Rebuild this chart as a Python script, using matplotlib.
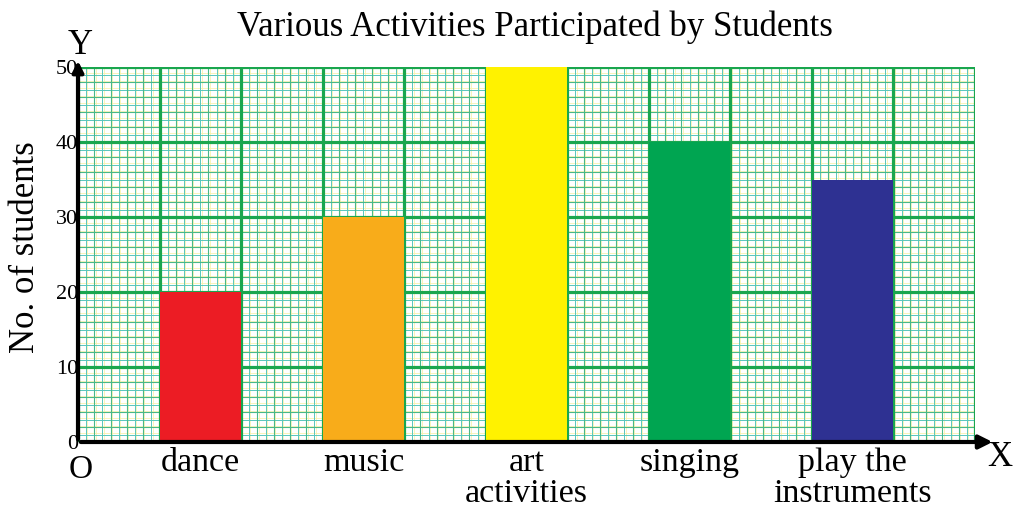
import matplotlib
matplotlib.use("Agg")
import matplotlib.pyplot as plt
import numpy as np

# Data
activities = ["dance", "music", "art\nactivities", "singing", "play the\ninstruments"]
students = [20, 30, 50, 40, 35]
bar_colors = ["#ec1c24", "#f8ac1a", "#fff200", "#00a551", "#2e3192"]
y_ticks = [0, 10, 20, 30, 40, 50]

plt.rcParams["font.family"] = ["Liberation Serif", "DejaVu Serif"]

fig = plt.figure(figsize=(10.23, 5.13), dpi=100)
ax = fig.add_axes([78 / 1023, 1 - 442 / 513, (975 - 78) / 1023, (442 - 67) / 513])

# Graph-paper grid: x runs over 11 major cells, y over 0..50
x_max = 11
y_max = 50
ax.set_xlim(0, x_max)
ax.set_ylim(0, y_max)

minor_x = np.arange(0, x_max + 1e-9, 0.1)
minor_y = np.arange(0, y_max + 1e-9, 1)
for v in minor_x:
    ax.axvline(v + 0.015, color="#f8f2b0", lw=0.6, zorder=0)
    ax.axvline(v, color="#58c6bc", lw=0.7, zorder=0.5)
for v in minor_y:
    ax.axhline(v + 0.15, color="#f8f2b0", lw=0.6, zorder=0)
    ax.axhline(v, color="#58c6bc", lw=0.7, zorder=0.5)
for v in np.arange(0, x_max + 1e-9, 0.2):
    ax.axvline(v, color="#48b889", lw=0.8, zorder=0.6)
for v in np.arange(0, y_max + 1e-9, 2):
    ax.axhline(v, color="#48b889", lw=0.8, zorder=0.6)
for v in np.arange(0, x_max + 1, 1):
    ax.axvline(v, color="#1aa64e", lw=2.3, zorder=0.7)
for v in np.arange(0, y_max + 1, 10):
    ax.axhline(v, color="#1aa64e", lw=2.3, zorder=0.7)

# Bars centred in alternate major cells
positions = [1.5 + 2 * i for i in range(len(activities))]
ax.bar(positions, students, width=1.0, color=bar_colors, zorder=2)

ax.set_xticks(positions)
ax.set_xticklabels(activities, fontsize=24.5, linespacing=1.0)
ax.set_yticks(y_ticks)
ax.set_yticklabels([str(t) for t in y_ticks], fontsize=16)
ax.tick_params(axis="both", length=0)
ax.tick_params(axis="x", pad=4)
ax.tick_params(axis="y", pad=0)
for s in ax.spines.values():
    s.set_visible(False)

# Axes lines with arrow heads
ax.annotate("", xy=(x_max + 0.25, 0), xytext=(0, 0), xycoords="data",
            arrowprops=dict(arrowstyle="-|>", color="black", lw=3, mutation_scale=20),
            annotation_clip=False, zorder=5)
ax.annotate("", xy=(0, y_max + 1.2), xytext=(0, 0), xycoords="data",
            arrowprops=dict(arrowstyle="-|>", color="black", lw=3, mutation_scale=16),
            annotation_clip=False, zorder=5)

fig.text(80 / 1023, 1 - 45 / 513, "Y", fontsize=25, ha="center", va="center")
fig.text(1000 / 1023, 1 - 458 / 513, "X", fontsize=25, ha="center", va="center")
fig.text(81 / 1023, 1 - 470 / 513, "O", fontsize=24, ha="center", va="center")

ax.set_ylabel("No. of students", fontsize=25)
ax.yaxis.set_label_coords(-0.04, 0.52)
fig.text(535 / 1023, 1 - 27 / 513, "Various Activities Participated by Students",
         fontsize=25, ha="center", va="center")

fig.savefig("out.png", dpi=100, facecolor="white")
